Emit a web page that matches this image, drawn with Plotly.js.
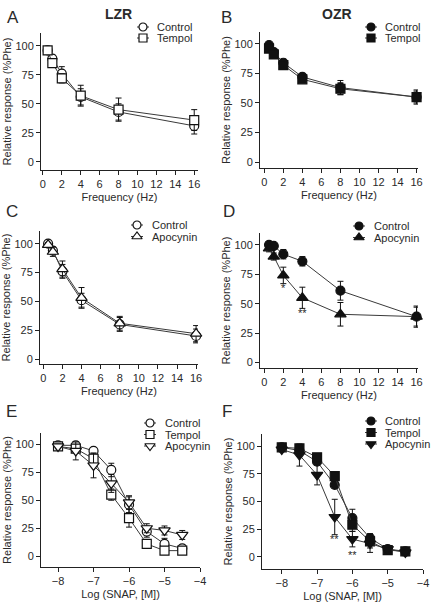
<!DOCTYPE html>
<html>
<head>
<meta charset="utf-8">
<script src="https://cdn.plot.ly/plotly-3.0.1.min.js"></script>
<style>html,body{margin:0;padding:0;background:#fff;}#chart{width:431px;height:605px;}</style>
</head>
<body>
<div id="chart"></div>
<script>
// ---------- DATA ----------
const freq = [0.5, 1, 2, 4, 8, 16];
const freqTicks = [0, 2, 4, 6, 8, 10, 12, 14, 16];
const snapLog = [-8, -7.5, -7, -6.5, -6, -5.5, -5, -4.5];
const snapTicks = [-8, -7, -6, -5, -4];
const respTicks = [0, 25, 50, 75, 100];

// A: LZR, Control vs Tempol
const lzrControl = [96, 89, 76, 56, 43, 31];
const lzrControlErr = [2, 3, 6, 7, 7, 7];
const lzrTempol = [96, 85, 72, 57, 45, 36];
const lzrTempolErr = [2, 3, 4, 9, 10, 9];

// B: OZR, Control vs Tempol
const ozrControl = [99, 93, 84, 72, 63, 55];
const ozrControlErr = [2, 2, 3, 3, 6, 6];
const ozrTempol = [96, 91, 82, 70, 62, 55];
const ozrTempolErr = [2, 2, 2, 2, 5, 5];

// C: LZR, Control vs Apocynin
const lzrControl2 = [100, 94, 76, 51, 30, 20];
const lzrControl2Err = [2, 3, 6, 6, 6, 6];
const lzrApocynin = [99, 93, 78, 53, 31, 22];
const lzrApocyninErr = [2, 4, 7, 9, 6, 7];

// D: OZR, Control vs Apocynin
const ozrControl2 = [100, 99, 92, 86, 61, 39];
const ozrControl2Err = [2, 2, 4, 4, 8, 8];
const ozrApocynin = [97, 90, 74, 55, 41, 39];
const ozrApocyninErr = [3, 3, 7, 9, 10, 9];

// E: LZR, SNAP dose response
const lzrSnapControl = [99, 99, 94, 77, 46, 22, 11, 7];
const lzrSnapControlErr = [2, 3, 3, 6, 7, 5, 5, 3];
const lzrSnapTempol = [98, 96, 87, 55, 34, 11, 5, 5];
const lzrSnapTempolErr = [2, 3, 5, 5, 8, 3, 3, 3];
const lzrSnapApocynin = [98, 94, 81, 65, 48, 25, 23, 19];
const lzrSnapApocyninErr = [2, 8, 11, 8, 6, 4, 4, 4];

// F: OZR, SNAP dose response
const ozrSnapControl = [99, 96, 86, 65, 35, 17, 7, 5];
const ozrSnapControlErr = [2, 2, 3, 3, 8, 4, 3, 3];
const ozrSnapTempol = [99, 98, 90, 73, 29, 14, 6, 5];
const ozrSnapTempolErr = [2, 2, 3, 3, 6, 6, 3, 3];
const ozrSnapApocynin = [97, 92, 74, 36, 16, 12, 7, 4];
const ozrSnapApocyninErr = [2, 10, 9, 16, 7, 8, 3, 3];

// significance marks
const sigD = {x: [2, 4], y: [63, 42], text: ['*', '**']};
const sigF = {x: [-6.5, -6], y: [16, 1.5], text: ['**', '**']};

// ---------- STYLE ----------
const FONT = 'Liberation Sans, Arial, sans-serif';
const TXT = '#2a2a2a';
const MK = '#111';
const LN = '#3a3a3a';

function series(ax, x, y, err, symbol, fill, size, name) {
  return {
    type: 'scatter', mode: 'lines+markers', name: name,
    x: x, y: y, xaxis: 'x' + ax, yaxis: 'y' + ax, showlegend: false,
    line: {color: LN, width: 1},
    marker: {symbol: symbol, size: size, color: fill, line: {color: MK, width: 1.2}},
    error_y: {type: 'data', array: err, color: MK, thickness: 1, width: 3},
    cliponaxis: false
  };
}

const traces = [
  series(1, freq, lzrControl, lzrControlErr, 'circle', 'white', 9, 'Control'),
  series(1, freq, lzrTempol, lzrTempolErr, 'square', 'white', 9, 'Tempol'),
  series(2, freq, ozrControl, ozrControlErr, 'circle', MK, 9, 'Control'),
  series(2, freq, ozrTempol, ozrTempolErr, 'square', MK, 9, 'Tempol'),
  series(3, freq, lzrControl2, lzrControl2Err, 'circle', 'white', 9, 'Control'),
  series(3, freq, lzrApocynin, lzrApocyninErr, 'triangle-up', 'white', 10, 'Apocynin'),
  series(4, freq, ozrControl2, ozrControl2Err, 'circle', MK, 9, 'Control'),
  series(4, freq, ozrApocynin, ozrApocyninErr, 'triangle-up', MK, 10, 'Apocynin'),
  series(5, snapLog, lzrSnapControl, lzrSnapControlErr, 'circle', 'white', 9, 'Control'),
  series(5, snapLog, lzrSnapTempol, lzrSnapTempolErr, 'square', 'white', 9, 'Tempol'),
  series(5, snapLog, lzrSnapApocynin, lzrSnapApocyninErr, 'triangle-down', 'white', 10, 'Apocynin'),
  series(6, snapLog, ozrSnapControl, ozrSnapControlErr, 'circle', MK, 9, 'Control'),
  series(6, snapLog, ozrSnapTempol, ozrSnapTempolErr, 'square', MK, 9, 'Tempol'),
  series(6, snapLog, ozrSnapApocynin, ozrSnapApocyninErr, 'triangle-down', MK, 10, 'Apocynin')
];

// ---------- LEGEND KEYS (drawn on a pixel overlay axis) ----------
const legendSpec = [
  {px: 143, py: [27, 38], items: [['circle', 'white', 'Control'], ['square', 'white', 'Tempol']], tx: 155},
  {px: 371, py: [27, 38], items: [['circle', MK, 'Control'], ['square', MK, 'Tempol']], tx: 383},
  {px: 137, py: [225, 236.5], items: [['circle', 'white', 'Control'], ['triangle-up', 'white', 'Apocynin']], tx: 150},
  {px: 359, py: [226, 237.5], items: [['circle', MK, 'Control'], ['triangle-up', MK, 'Apocynin']], tx: 372},
  {px: 150, py: [423, 434.5, 446], items: [['circle', 'white', 'Control'], ['square', 'white', 'Tempol'], ['triangle-down', 'white', 'Apocynin']], tx: 163},
  {px: 371, py: [421, 432.5, 444], items: [['circle', MK, 'Control'], ['square', MK, 'Tempol'], ['triangle-down', MK, 'Apocynin']], tx: 383}
];
const annotations = [];
legendSpec.forEach(function (lg) {
  lg.items.forEach(function (it, i) {
    const yy = lg.py[i];
    traces.push({type: 'scatter', mode: 'lines', x: [lg.px - 6, lg.px + 6], y: [yy, yy],
      xaxis: 'x7', yaxis: 'y7', showlegend: false, hoverinfo: 'skip', cliponaxis: false,
      line: {color: LN, width: 1}});
    traces.push({type: 'scatter', mode: 'markers', x: [lg.px], y: [yy],
      xaxis: 'x7', yaxis: 'y7', showlegend: false, hoverinfo: 'skip', cliponaxis: false,
      marker: {symbol: it[0], size: it[0].indexOf('triangle') === 0 ? 9 : 8, color: it[1], line: {color: MK, width: 1.2}}});
    annotations.push({xref: 'x7', yref: 'y7', x: lg.tx, y: yy, text: it[2], showarrow: false,
      xanchor: 'left', yanchor: 'middle', font: {family: FONT, size: 11, color: TXT}});
  });
});

// panel letters and group titles
[['A', 13, 17], ['B', 226, 17], ['C', 12, 211], ['D', 229, 211], ['E', 11, 411], ['F', 227, 411]].forEach(function (p) {
  annotations.push({xref: 'x7', yref: 'y7', x: p[1], y: p[2], text: p[0], showarrow: false,
    xanchor: 'center', yanchor: 'middle', font: {family: FONT, size: 17, color: TXT}});
});
annotations.push({xref: 'x7', yref: 'y7', x: 118, y: 14, text: '<b>LZR</b>', showarrow: false,
  font: {family: FONT, size: 14, color: TXT}});
annotations.push({xref: 'x7', yref: 'y7', x: 337, y: 14, text: '<b>OZR</b>', showarrow: false,
  font: {family: FONT, size: 14, color: TXT}});

// significance stars
sigD.x.forEach(function (v, i) {
  annotations.push({xref: 'x4', yref: 'y4', x: v, y: sigD.y[i], text: sigD.text[i], showarrow: false,
    font: {family: FONT, size: 11, color: TXT}});
});
sigF.x.forEach(function (v, i) {
  annotations.push({xref: 'x6', yref: 'y6', x: v, y: sigF.y[i], text: sigF.text[i], showarrow: false,
    font: {family: FONT, size: 11, color: TXT}});
});

// ---------- AXES ----------
const W = 431, H = 605;
function xd(a, b) { return [a / W, b / W]; }
function yd(top, bot) { return [1 - bot / H, 1 - top / H]; }

function xAxis(n, dom, range, ticks, title) {
  return {
    domain: dom, range: range, anchor: 'y' + n, tickmode: 'array', tickvals: ticks,
    showline: true, linecolor: '#222', linewidth: 1, ticks: 'outside', ticklen: 4, tickwidth: 1, tickcolor: '#222',
    showgrid: false, zeroline: false, tickfont: {family: FONT, size: 11, color: TXT},
    title: {text: title, font: {family: FONT, size: 11, color: TXT}, standoff: 4},
    automargin: false, fixedrange: true
  };
}
function yAxis(n, dom, range) {
  return {
    domain: dom, range: range, anchor: 'x' + n, tickmode: 'array', tickvals: respTicks,
    showline: true, linecolor: '#222', linewidth: 1, ticks: 'outside', ticklen: 4, tickwidth: 1, tickcolor: '#222',
    showgrid: false, zeroline: false, tickfont: {family: FONT, size: 11, color: TXT},
    title: {text: 'Relative response (%Phe)', font: {family: FONT, size: 11, color: TXT}, standoff: 1},
    automargin: false, fixedrange: true
  };
}

const layout = {
  width: W, height: H, margin: {l: 0, r: 0, t: 0, b: 0},
  paper_bgcolor: '#fff', plot_bgcolor: 'rgba(0,0,0,0)', showlegend: false,
  font: {family: FONT, color: TXT},
  xaxis: xAxis(1, xd(41, 198), [-0.2, 16.4], freqTicks, 'Frequency (Hz)'),
  yaxis: yAxis(1, yd(33, 170), [-7, 111]),
  xaxis2: xAxis(2, xd(260, 418), [-0.45, 16.15], freqTicks, 'Frequency (Hz)'),
  yaxis2: yAxis(2, yd(32, 168), [-5, 110]),
  xaxis3: xAxis(3, xd(40, 198), [-0.35, 16.2], freqTicks, 'Frequency (Hz)'),
  yaxis3: yAxis(3, yd(231, 364), [-4.3, 111]),
  xaxis4: xAxis(4, xd(260, 418), [-0.45, 16.15], freqTicks, 'Frequency (Hz)'),
  yaxis4: yAxis(4, yd(233, 368), [-4.6, 110]),
  xaxis5: xAxis(5, xd(41, 200), [-8.48, -4], snapTicks, 'Log (SNAP, [M])'),
  yaxis5: yAxis(5, yd(433, 567), [-9.6, 110]),
  xaxis6: xAxis(6, xd(262, 423), [-8.56, -4], snapTicks, 'Log (SNAP, [M])'),
  yaxis6: yAxis(6, yd(434, 569), [-11, 111]),
  xaxis7: {domain: [0, 1], range: [0, W], visible: false, fixedrange: true, anchor: 'y7'},
  yaxis7: {domain: [0, 1], range: [H, 0], visible: false, fixedrange: true, anchor: 'x7'},
  annotations: annotations
};

Plotly.newPlot('chart', traces, layout, {staticPlot: true, displayModeBar: false});
</script>
</body>
</html>
